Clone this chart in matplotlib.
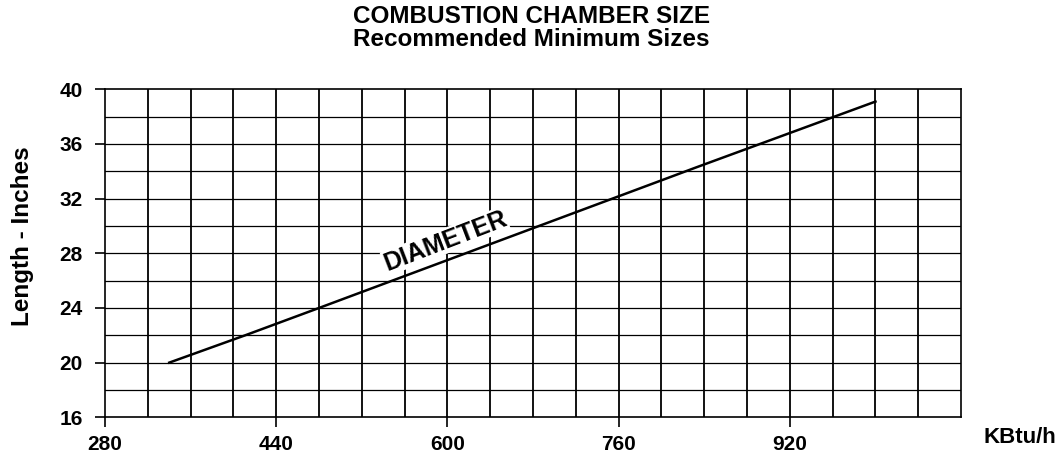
import matplotlib
matplotlib.use("Agg")
import matplotlib.pyplot as plt
import numpy as np

plt.rcParams['font.family'] = ['Liberation Sans', 'DejaVu Sans']

# Curva de diámetro mínimo
kbtu = [340, 411, 480, 833, 1000]
diametro = [20.0, 22.0, 24.0, 34.3, 39.1]

xticks = [280, 440, 600, 760, 920]
yticks = [16, 20, 24, 28, 32, 36, 40]

fig = plt.figure(figsize=(10.59, 4.65), dpi=100)
ax = fig.add_axes([0.0992, 0.1026, 0.8083, 0.7054])

ax.set_xlim(280, 1080)
ax.set_ylim(16, 40)

# Grilla: verticales cada 40, horizontales cada 2
for x in np.arange(320, 1080, 40):
    ax.axvline(x, color='black', linewidth=1.3, zorder=1)
for y in np.arange(18, 40, 2):
    ax.axhline(y, color='black', linewidth=0.9, zorder=1)

ax.plot(kbtu, diametro, color='black', linewidth=1.8, zorder=3)

ax.text(598, 28.9, "DIAMETER", rotation=21, ha='center', va='center',
        fontsize=18, fontweight='bold', zorder=4,
        bbox=dict(fc='white', ec='none', pad=0.3))

ax.set_xticks(xticks)
ax.set_yticks(yticks)
ax.tick_params(axis='both', direction='out', length=7, width=1.2, labelsize=15)
ax.tick_params(axis='x', pad=6)
ax.tick_params(axis='y', pad=9)
for lab in ax.get_xticklabels() + ax.get_yticklabels():
    lab.set_fontweight('bold')

for s in ax.spines.values():
    s.set_linewidth(1.2)

ax.set_ylabel("Length - Inches", fontsize=17.5, fontweight='bold')
ax.yaxis.set_label_coords(-0.083, 0.552)
fig.text(0.997, 0.06, "KBtu/h", ha='right', va='center', fontsize=16, fontweight='bold')

fig.text(0.502, 0.965, "COMBUSTION CHAMBER SIZE", ha='center', va='center',
         fontsize=17.5, fontweight='bold')
fig.text(0.502, 0.915, "Recommended Minimum Sizes", ha='center', va='center',
         fontsize=17.5, fontweight='bold')

fig.savefig("out.png", dpi=100)
